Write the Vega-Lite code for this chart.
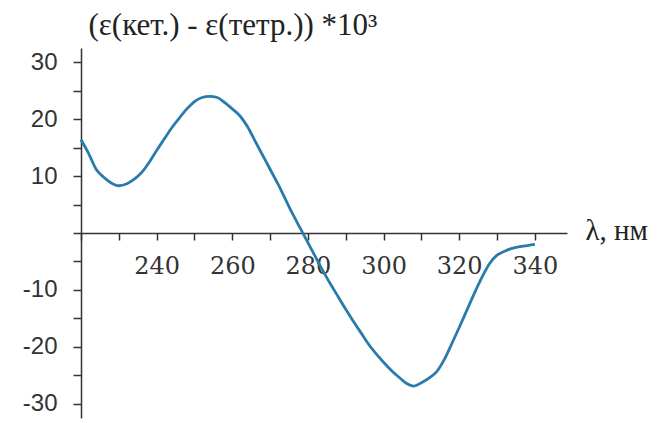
{
  "$schema": "https://vega.github.io/schema/vega-lite/v6.json",
  "autosize": {"type": "none"},
  "padding": {"left": 81, "top": 48, "right": 90, "bottom": 5},
  "width": 486,
  "height": 370,
  "background": "white",
  "config": {"view": {"stroke": null}},
  "data": {
    "values": [
      {"wavelength": 220, "value": 16.4},
      {"wavelength": 222, "value": 14.0},
      {"wavelength": 224, "value": 11.2},
      {"wavelength": 226, "value": 9.8},
      {"wavelength": 228, "value": 8.8},
      {"wavelength": 230, "value": 8.3},
      {"wavelength": 232, "value": 8.6},
      {"wavelength": 234, "value": 9.4},
      {"wavelength": 236, "value": 10.6},
      {"wavelength": 238, "value": 12.4},
      {"wavelength": 240, "value": 14.5},
      {"wavelength": 242, "value": 16.5},
      {"wavelength": 244, "value": 18.5},
      {"wavelength": 246, "value": 20.2},
      {"wavelength": 248, "value": 21.8},
      {"wavelength": 250, "value": 23.1},
      {"wavelength": 252, "value": 23.8},
      {"wavelength": 254, "value": 24.0},
      {"wavelength": 256, "value": 23.8},
      {"wavelength": 258, "value": 22.9},
      {"wavelength": 260, "value": 21.8},
      {"wavelength": 262, "value": 20.6},
      {"wavelength": 264, "value": 18.7},
      {"wavelength": 266, "value": 16.2},
      {"wavelength": 268, "value": 13.7},
      {"wavelength": 270, "value": 11.2},
      {"wavelength": 272, "value": 8.7},
      {"wavelength": 274, "value": 6.0},
      {"wavelength": 276, "value": 3.3},
      {"wavelength": 278, "value": 0.8},
      {"wavelength": 280, "value": -1.7},
      {"wavelength": 282, "value": -4.2},
      {"wavelength": 284, "value": -6.7},
      {"wavelength": 286, "value": -9.0},
      {"wavelength": 288, "value": -11.2},
      {"wavelength": 290, "value": -13.4},
      {"wavelength": 292, "value": -15.5},
      {"wavelength": 294, "value": -17.5},
      {"wavelength": 296, "value": -19.5},
      {"wavelength": 298, "value": -21.2},
      {"wavelength": 300, "value": -22.7},
      {"wavelength": 302, "value": -24.1},
      {"wavelength": 304, "value": -25.3},
      {"wavelength": 306, "value": -26.4},
      {"wavelength": 308, "value": -26.9},
      {"wavelength": 310, "value": -26.3},
      {"wavelength": 312, "value": -25.5},
      {"wavelength": 314, "value": -24.4},
      {"wavelength": 316, "value": -22.3},
      {"wavelength": 318, "value": -19.5},
      {"wavelength": 320, "value": -16.6},
      {"wavelength": 322, "value": -13.6},
      {"wavelength": 324, "value": -10.6},
      {"wavelength": 326, "value": -7.8},
      {"wavelength": 328, "value": -5.4},
      {"wavelength": 330, "value": -3.9},
      {"wavelength": 332, "value": -3.2},
      {"wavelength": 334, "value": -2.7},
      {"wavelength": 336, "value": -2.4},
      {"wavelength": 338, "value": -2.2},
      {"wavelength": 340, "value": -2.0}
    ]
  },
  "mark": {"type": "line", "color": "#2a7bab", "strokeWidth": 2.8, "interpolate": "monotone", "clip": false},
  "encoding": {
    "x": {
      "field": "wavelength",
      "type": "quantitative",
      "scale": {"domain": [220, 348.5], "nice": false, "zero": false},
      "axis": {
        "orient": "bottom",
        "offset": -185,
        "values": [220, 230, 240, 250, 260, 270, 280, 290, 300, 310, 320, 330, 340],
        "labelExpr": "datum.value % 20 == 0 && datum.value > 220 ? toString(datum.value) : ''",
        "labelOverlap": false,
        "grid": false,
        "domainColor": "#333333",
        "domainWidth": 1.5,
        "tickColor": "#333333",
        "tickWidth": 1.5,
        "tickSize": 7,
        "labelFont": "DejaVu Serif",
        "labelFontSize": 24,
        "labelColor": "#333333",
        "labelPadding": 14,
        "title": "λ, нм",
        "titleFont": "Liberation Serif",
        "titleFontSize": 29,
        "titleFontWeight": "normal",
        "titleColor": "#222222",
        "titleX": 504,
        "titleY": -3,
        "titleAlign": "left",
        "titleBaseline": "middle",
        "titleAngle": 0
      }
    },
    "y": {
      "field": "value",
      "type": "quantitative",
      "scale": {"domain": [-32.5, 32.5], "nice": false, "zero": false},
      "axis": {
        "orient": "left",
        "values": [-30, -25, -20, -15, -10, -5, 0, 5, 10, 15, 20, 25, 30],
        "labelExpr": "datum.value % 10 == 0 && datum.value != 0 ? toString(datum.value) : ''",
        "labelOverlap": false,
        "grid": false,
        "domainColor": "#333333",
        "domainWidth": 1.5,
        "tickColor": "#333333",
        "tickWidth": 1.5,
        "tickSize": 8,
        "labelFont": "Liberation Sans",
        "labelFontSize": 24,
        "labelColor": "#333333",
        "labelPadding": 16,
        "title": "(ε(кет.) - ε(тетр.)) *10³",
        "titleFont": "Liberation Serif",
        "titleFontSize": 31,
        "titleFontWeight": "normal",
        "titleColor": "#222222",
        "titleAngle": 0,
        "titleX": 7,
        "titleY": -14,
        "titleAlign": "left",
        "titleBaseline": "alphabetic"
      }
    }
  }
}
